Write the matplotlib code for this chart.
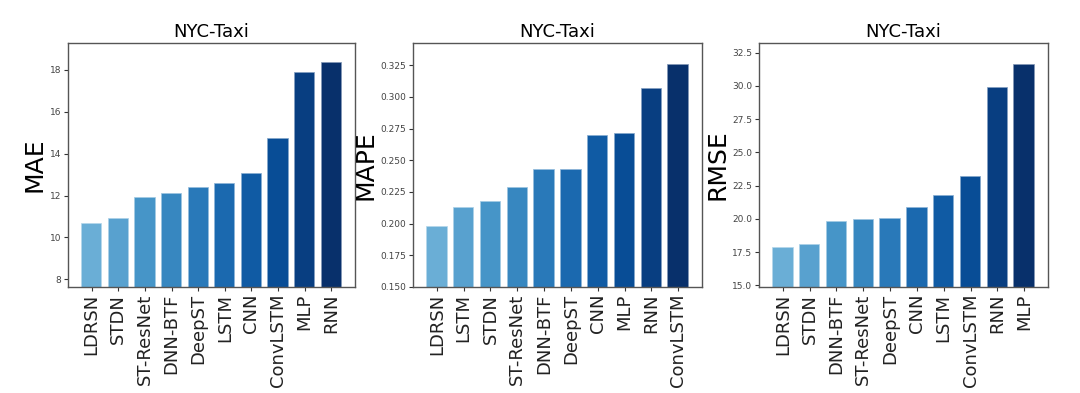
import numpy as np
import matplotlib
matplotlib.use("Agg")
import matplotlib.pyplot as plt

mae_models = ["LDRSN", "STDN", "ST-ResNet", "DNN-BTF", "DeepST", "LSTM", "CNN", "ConvLSTM", "MLP", "RNN"]
mae_values = [10.71, 10.95, 11.93, 12.11, 12.39, 12.59, 13.10, 14.74, 17.90, 18.38]

mape_models = ["LDRSN", "LSTM", "STDN", "ST-ResNet", "DNN-BTF", "DeepST", "CNN", "MLP", "RNN", "ConvLSTM"]
mape_values = [0.1985, 0.2133, 0.2180, 0.2288, 0.2428, 0.2433, 0.2697, 0.2718, 0.3068, 0.3260]

rmse_models = ["LDRSN", "STDN", "DNN-BTF", "ST-ResNet", "DeepST", "CNN", "LSTM", "ConvLSTM", "RNN", "MLP"]
rmse_values = [17.88, 18.13, 19.81, 20.01, 20.09, 20.92, 21.80, 23.20, 29.94, 31.65]

panels = [
    (mae_models, mae_values, "MAE", (7.63, 19.29), [8, 10, 12, 14, 16, 18], "{:.0f}"),
    (mape_models, mape_values, "MAPE", (0.150, 0.3426), np.arange(0.150, 0.3251, 0.025), "{:.3f}"),
    (rmse_models, rmse_values, "RMSE", (14.87, 33.23), np.arange(15.0, 32.51, 2.5), "{:.1f}"),
]

W, H = 1080, 393
fig = plt.figure(figsize=(W / 100, H / 100), dpi=100)
lefts = [68, 413, 759]
widths = [287, 289, 289]
top, bottom = 43, 287

colors = plt.cm.Blues(np.linspace(0.5, 1.0, 10))

for (models, vals, label, ylim, ticks, fmt), l, w in zip(panels, lefts, widths):
    ax = fig.add_axes([l / W, 1 - bottom / H, w / W, (bottom - top) / H])
    x = np.arange(len(models))
    ax.bar(x, vals, width=0.8, color=colors, edgecolor=(1, 1, 1, 0.6), linewidth=1.2)
    ax.set_ylim(*ylim)
    ax.set_yticks(ticks)
    ax.set_yticklabels([fmt.format(t) for t in ticks], fontsize=6.5, color="#444444")
    ax.set_xticks(x)
    ax.set_xticklabels(models, rotation=90, fontsize=13, color="#222222")
    ax.set_ylabel(label, fontsize=18, labelpad=2)
    ax.set_title("NYC-Taxi", fontsize=13, pad=4)
    ax.tick_params(length=3, width=0.8, color="#333333", pad=2)
    for s in ax.spines.values():
        s.set_color("#555555")
        s.set_linewidth(1.0)

fig.savefig("out.png", dpi=100)
